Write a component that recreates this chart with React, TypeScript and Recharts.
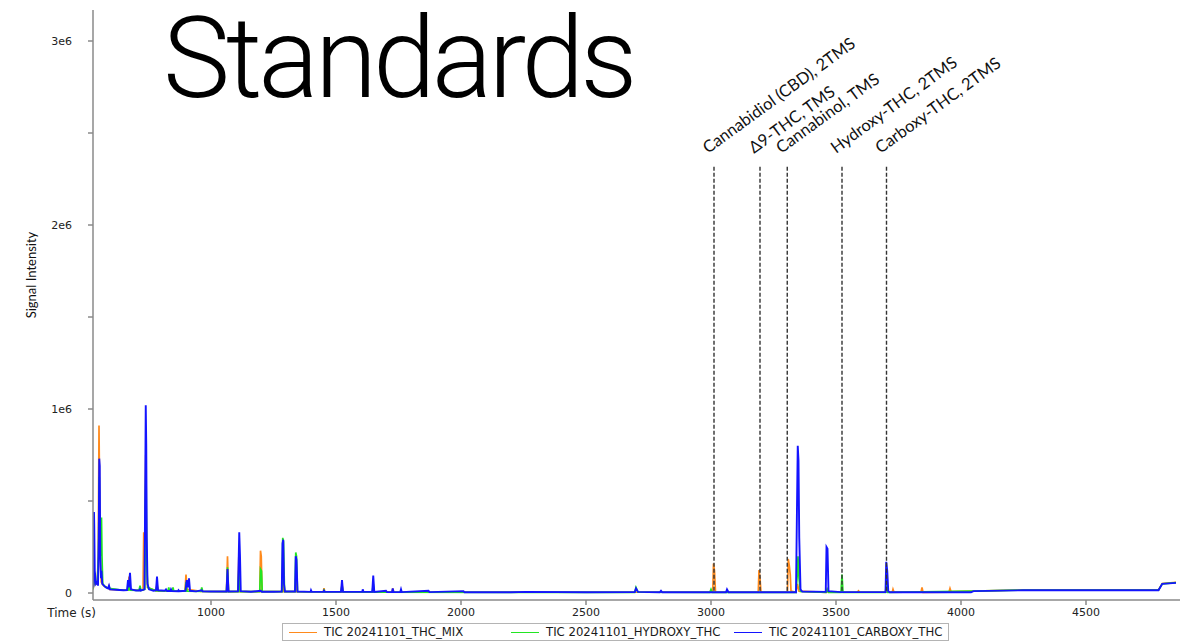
import React from 'react';
import { LineChart, Line, XAxis, YAxis, ReferenceLine, Legend } from 'recharts';

// time (s), intensity (millions)
const mixTrace: [number, number][] = [
  [528, 0.02], [531, 0.04], [532, 0.12], [534, 0.05], [545, 0.05], [549, 0.2], [552, 0.91], [554, 0.6], [556, 0.41], [558, 0.15], [561, 0.06], [570, 0.04], [590, 0.025], [592, 0.035], [595, 0.02], [650, 0.015], [668, 0.015], [672, 0.09], [676, 0.02], [700, 0.015], [728, 0.015], [731, 0.33], [733, 0.1], [737, 0.5], [739, 0.75], [742, 0.2], [746, 0.03], [780, 0.012], [784, 0.05], [788, 0.012], [896, 0.011], [900, 0.1], [904, 0.02], [960, 0.009], [1062, 0.008], [1066, 0.2], [1070, 0.008], [1108, 0.008], [1112, 0.24], [1116, 0.008], [1195, 0.007], [1198, 0.23], [1201, 0.2], [1204, 0.007], [1283, 0.007], [1286, 0.1], [1290, 0.007], [1336, 0.007], [1339, 0.08], [1343, 0.007], [1449, 0.006], [1452, 0.027], [1455, 0.006], [1521, 0.006], [1524, 0.05], [1528, 0.006], [1646, 0.005], [1649, 0.03], [1653, 0.005], [1724, 0.005], [1727, 0.025], [1731, 0.005], [1980, 0.004], [2000, 0.008], [2004, 0.004], [3007, 0.004], [3010, 0.16], [3014, 0.12], [3018, 0.004], [3189, 0.004], [3192, 0.125], [3196, 0.08], [3200, 0.004], [3306, 0.004], [3309, 0.185], [3313, 0.15], [3317, 0.1], [3320, 0.01], [3340, 0.004], [3346, 0.05], [3352, 0.01], [3460, 0.004], [3464, 0.02], [3468, 0.004], [3585, 0.004], [3590, 0.012], [3595, 0.004], [3700, 0.004], [3704, 0.05], [3708, 0.004], [3725, 0.004], [3728, 0.02], [3732, 0.004], [3840, 0.004], [3844, 0.03], [3848, 0.004], [3952, 0.005], [3956, 0.025], [3960, 0.008], [4050, 0.01], [4250, 0.017], [4790, 0.017], [4805, 0.052], [4860, 0.058],
];

const hydroxyTrace: [number, number][] = [
  [528, 0.02], [531, 0.05], [532, 0.16], [534, 0.06], [545, 0.05], [550, 0.2], [553, 0.63], [555, 0.3], [559, 0.2], [562, 0.41], [564, 0.2], [567, 0.05], [575, 0.035], [592, 0.025], [650, 0.015], [668, 0.015], [672, 0.05], [676, 0.015], [712, 0.014], [716, 0.04], [720, 0.014], [735, 0.02], [738, 0.5], [740, 0.71], [743, 0.15], [747, 0.03], [780, 0.012], [784, 0.04], [788, 0.012], [828, 0.011], [831, 0.03], [834, 0.011], [845, 0.011], [848, 0.03], [851, 0.011], [897, 0.01], [900, 0.06], [904, 0.01], [960, 0.009], [963, 0.03], [967, 0.009], [1062, 0.008], [1066, 0.14], [1070, 0.008], [1108, 0.008], [1112, 0.15], [1116, 0.008], [1195, 0.007], [1198, 0.13], [1202, 0.12], [1205, 0.007], [1284, 0.007], [1287, 0.3], [1290, 0.28], [1294, 0.007], [1336, 0.007], [1339, 0.22], [1342, 0.2], [1346, 0.007], [1449, 0.006], [1452, 0.015], [1455, 0.006], [1520, 0.006], [1524, 0.04], [1528, 0.006], [1645, 0.005], [1649, 0.05], [1653, 0.004], [2695, 0.003], [2700, 0.03], [2708, 0.004], [2995, 0.003], [3000, 0.02], [3005, 0.003], [3340, 0.003], [3345, 0.1], [3348, 0.2], [3352, 0.08], [3358, 0.008], [3460, 0.003], [3465, 0.02], [3470, 0.003], [3520, 0.003], [3524, 0.1], [3528, 0.003], [3698, 0.003], [3702, 0.06], [3707, 0.003], [4050, 0.01], [4250, 0.016], [4790, 0.016], [4805, 0.05], [4860, 0.056],
];

const carboxyTrace: [number, number][] = [
  [528, 0.03], [531, 0.05], [532, 0.44], [533, 0.36], [535, 0.12], [540, 0.05], [545, 0.06], [548, 0.04], [551, 0.3], [553, 0.73], [555, 0.69], [557, 0.2], [560, 0.08], [562, 0.12], [565, 0.05], [572, 0.04], [580, 0.03], [588, 0.025], [592, 0.04], [596, 0.02], [620, 0.018], [650, 0.015], [664, 0.016], [668, 0.07], [671, 0.03], [676, 0.11], [680, 0.02], [700, 0.014], [714, 0.015], [716, 0.02], [719, 0.013], [734, 0.02], [737, 0.6], [739, 1.02], [741, 0.8], [743, 0.3], [746, 0.05], [752, 0.02], [770, 0.012], [780, 0.015], [784, 0.09], [788, 0.015], [815, 0.012], [820, 0.02], [824, 0.011], [838, 0.012], [840, 0.02], [843, 0.011], [868, 0.01], [870, 0.015], [873, 0.01], [898, 0.012], [903, 0.07], [907, 0.03], [912, 0.08], [916, 0.012], [940, 0.009], [963, 0.015], [966, 0.009], [1000, 0.008], [1062, 0.008], [1066, 0.13], [1070, 0.008], [1108, 0.009], [1111, 0.2], [1113, 0.33], [1116, 0.2], [1119, 0.01], [1160, 0.007], [1199, 0.012], [1203, 0.007], [1250, 0.007], [1283, 0.008], [1286, 0.27], [1289, 0.29], [1292, 0.05], [1296, 0.008], [1336, 0.008], [1339, 0.2], [1342, 0.18], [1346, 0.008], [1398, 0.006], [1400, 0.015], [1403, 0.006], [1450, 0.006], [1452, 0.012], [1455, 0.006], [1520, 0.006], [1524, 0.07], [1528, 0.006], [1605, 0.006], [1607, 0.02], [1610, 0.006], [1645, 0.006], [1649, 0.095], [1653, 0.006], [1700, 0.012], [1704, 0.005], [1724, 0.005], [1727, 0.025], [1730, 0.005], [1757, 0.005], [1760, 0.02], [1763, 0.005], [1870, 0.012], [1874, 0.005], [2010, 0.01], [2014, 0.004], [2200, 0.004], [2260, 0.006], [2500, 0.004], [2695, 0.005], [2700, 0.025], [2708, 0.006], [2795, 0.004], [2800, 0.012], [2805, 0.004], [3000, 0.004], [3060, 0.004], [3064, 0.02], [3070, 0.004], [3340, 0.004], [3344, 0.47], [3347, 0.8], [3350, 0.72], [3353, 0.3], [3358, 0.02], [3365, 0.008], [3459, 0.006], [3462, 0.25], [3466, 0.24], [3470, 0.01], [3520, 0.005], [3698, 0.005], [3701, 0.17], [3705, 0.12], [3709, 0.01], [3715, 0.004], [4040, 0.004], [4050, 0.01], [4250, 0.015], [4790, 0.015], [4805, 0.05], [4860, 0.055],
];

const seriesNames = ['TIC 20241101_THC_MIX', 'TIC 20241101_HYDROXY_THC', 'TIC 20241101_CARBOXY_THC'];
const seriesColors = ['#ff8a1c', '#22e622', '#1414ff'];

const compoundNames = ['Cannabidiol (CBD), 2TMS', 'Δ9-THC, TMS', 'Cannabinol, TMS', 'Hydroxy-THC, 2TMS', 'Carboxy-THC, 2TMS'];
const compoundTimes = [3012, 3196, 3305, 3524, 3702];
const markerTop = 2.326;
const markerBottom = 0.012;

const xTicks = [1000, 1500, 2000, 2500, 3000, 3500, 4000, 4500];
const yTicks = [0, 0.5, 1, 1.5, 2, 2.5, 3];

const toRows = (pts: [number, number][]) => pts.map(([t, v]) => ({ t, v }));
const traces = [toRows(mixTrace), toRows(hydroxyTrace), toRows(carboxyTrace)];

const fmtY = (v: number) => (v === 0 ? '0' : Number.isInteger(v) ? `${v}e6` : '');

const LegendBox = () => (
  <div
    style={{
      boxSizing: 'border-box',
      width: 667,
      height: 18,
      border: '1px solid #b4b4b4',
      background: '#fff',
      display: 'flex',
      alignItems: 'center',
      paddingLeft: 6,
      fontFamily: 'DejaVu Sans',
      fontSize: 11.7,
      color: '#1a1a1a',
      whiteSpace: 'nowrap',
    }}
  >
    {seriesNames.map((n, i) => (
      <div key={n} style={{ display: 'flex', alignItems: 'center', width: i === 0 ? 222 : i === 1 ? 223 : 210 }}>
        <div style={{ width: 28, height: 0, borderTop: `1px solid ${seriesColors[i]}`, marginRight: 7 }} />
        <span>{n}</span>
      </div>
    ))}
  </div>
);

const makeAnnot = (name: string) => (props: any) => {
  const vb = props.viewBox || {};
  const x = vb.x - 6;
  const y = vb.y - 11;
  return (
    <text x={x} y={y} transform={`rotate(-36 ${x} ${y})`} fontFamily="Lato" fontSize={16.5} fill="#111">
      {name}
    </text>
  );
};

export default function App() {
  return (
    <div style={{ position: 'absolute', left: 0, top: 0, width: 1183, height: 641, background: '#fff' }}>
      <LineChart width={1183} height={641} margin={{ top: 10, right: 3, bottom: 16, left: 33 }}>
        <XAxis
          dataKey="t"
          type="number"
          domain={[528, 4876]}
          ticks={xTicks}
          allowDataOverflow
          height={25}
          stroke="#8a8a8a"
          strokeWidth={1.5}
          tickSize={5}
          tickMargin={3}
          tick={{ fill: '#222', fontFamily: 'DejaVu Sans', fontSize: 11 }}
          label={{ value: 'Time (s)', position: 'left', offset: -3, fill: '#222', fontFamily: 'DejaVu Sans', fontSize: 12 }}
        />
        <YAxis
          type="number"
          domain={[-0.038, 3.1685]}
          ticks={yTicks}
          allowDataOverflow
          width={60}
          stroke="#8a8a8a"
          strokeWidth={1.5}
          tickSize={5}
          tickMargin={16}
          tickFormatter={fmtY}
          tick={{ fill: '#222', fontFamily: 'DejaVu Sans', fontSize: 11 }}
          label={{
            content: () => (
              <text x={36} y={275} transform="rotate(-90 36 275)" textAnchor="middle" fontFamily="Lato" fontSize={13} fill="#111">
                Signal Intensity
              </text>
            ),
          }}
        />
        {traces.map((rows, i) => (
          <Line
            key={seriesNames[i]}
            data={rows}
            dataKey="v"
            name={seriesNames[i]}
            type="linear"
            stroke={seriesColors[i]}
            strokeWidth={i === 2 ? 1.9 : 1.7}
            dot={false}
            activeDot={false}
            isAnimationActive={false}
          />
        ))}
        {compoundTimes.map((t, i) => (
          <ReferenceLine
            key={compoundNames[i]}
            segment={[
              { x: t, y: markerBottom },
              { x: t, y: markerTop },
            ]}
            stroke="#333"
            strokeWidth={1.4}
            strokeDasharray="4 2"
            ifOverflow="visible"
            label={{ content: makeAnnot(compoundNames[i]) }}
          />
        ))}
        <Legend
          layout="horizontal"
          verticalAlign="middle"
          align="center"
          wrapperStyle={{ left: 282, top: 623, width: 667, height: 18 }}
          content={() => <LegendBox />}
        />
      </LineChart>
      <div
        style={{
          position: 'absolute',
          left: 163,
          top: 2,
          fontFamily: 'Roboto',
          fontWeight: 300,
          fontSize: 113,
          lineHeight: '113px',
          letterSpacing: -4,
          color: '#000',
          whiteSpace: 'nowrap',
          pointerEvents: 'none',
        }}
      >
        Standards
      </div>
    </div>
  );
}
